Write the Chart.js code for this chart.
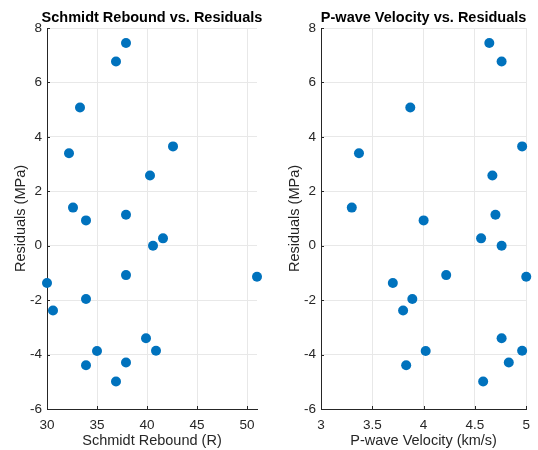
<!DOCTYPE html>
<html>
<head>
<meta charset="utf-8">
<script src="https://cdn.jsdelivr.net/npm/chart.js@4/dist/chart.umd.min.js"></script>
<style>
  body { margin: 0; background: #fff; }
  #wrap { position: relative; width: 538px; height: 450px; }
  canvas { position: absolute; top: 0; }
</style>
</head>
<body>
<div id="wrap">
  <canvas id="left" width="268" height="450" style="left:0"></canvas>
  <canvas id="right" width="270" height="450" style="left:268px"></canvas>
</div>
<script>
// residuals shared by both panels
const residuals = [7.45, 6.77, 5.08, 3.40, 3.65, 2.58, 1.40, 0.93, 1.14,
  0.00, 0.27, -1.08, -1.37, -1.14, -1.96, -2.38, -3.40, -3.86, -3.87, -4.39, -4.29, -4.99];
const schmidt = [37.9, 36.9, 33.3, 32.2, 42.6, 40.3, 32.6, 33.9, 37.9,
  40.6, 41.6, 37.9, 30.0, 51.0, 33.9, 30.6, 39.9, 40.9, 35.0, 33.9, 37.9, 36.9];
const pwave = [4.64, 4.76, 3.87, 3.37, 4.96, 4.67, 3.30, 4.00, 4.70,
  4.76, 4.56, 4.22, 3.70, 5.00, 3.89, 3.80, 4.76, 4.96, 4.02, 3.83, 4.83, 4.58];

const yTicks = [-6, -4, -2, 0, 2, 4, 6, 8];
const schmidtTicks = [30, 35, 40, 45, 50];
const pwaveTicks = [3, 3.5, 4, 4.5, 5];

const FONT = '"Liberation Sans", Arial, sans-serif';
const INK = '#262626';
const BLUE = '#0072BD';

// bold title centred over the plot area, plus small inward tick marks (matlab style)
const decor = {
  id: 'decor',
  beforeDatasetsDraw(chart) {
    const ctx = chart.ctx, a = chart.chartArea;
    const xs = chart.scales.x, ys = chart.scales.y;
    ctx.save();
    ctx.strokeStyle = INK;
    ctx.lineWidth = 1;
    ctx.beginPath();
    xs.ticks.forEach(t => {
      const px = Math.round(xs.getPixelForValue(t.value)) + 0.5;
      ctx.moveTo(px, a.bottom); ctx.lineTo(px, a.bottom - 3);
    });
    ys.ticks.forEach(t => {
      const py = Math.round(ys.getPixelForValue(t.value)) + 0.5;
      ctx.moveTo(a.left, py); ctx.lineTo(a.left + 3, py);
    });
    ctx.stroke();
    ctx.restore();
  },
  afterDraw(chart, args, opts) {
    const ctx = chart.ctx, a = chart.chartArea;
    ctx.save();
    ctx.font = 'bold 14.5px ' + FONT;
    ctx.fillStyle = '#000';
    ctx.textAlign = 'center';
    ctx.textBaseline = 'middle';
    ctx.fillText(opts.text, (a.left + a.right) / 2, 18);
    ctx.restore();
  }
};

function makePanel(id, xs, xMin, xMax, xTicks, xTitle, title, yWidth, yTitlePad, padRight) {
  const pts = xs.map((x, i) => ({ x: x, y: residuals[i] }));
  return new Chart(document.getElementById(id), {
    type: 'scatter',
    data: { datasets: [{ data: pts, backgroundColor: BLUE, borderWidth: 0, pointRadius: 5, pointHoverRadius: 5, clip: false }] },
    options: {
      responsive: false,
      animation: false,
      layout: { padding: { top: 28, right: padRight, left: 0, bottom: 0 } },
      plugins: { legend: { display: false }, tooltip: { enabled: false }, decor: { text: title } },
      scales: {
        x: {
          type: 'linear', min: xMin, max: xMax,
          afterBuildTicks: s => { s.ticks = xTicks.map(v => ({ value: v })); },
          afterFit: s => { s.height = 41; },
          grid: { color: '#e8e8e8', drawTicks: false },
          border: { display: true, color: INK },
          ticks: { color: INK, font: { family: FONT, size: 13.5 }, padding: 8, maxRotation: 0, callback: v => String(v) },
          title: { display: true, text: xTitle, color: INK, font: { family: FONT, size: 14.5 }, padding: { top: 0, bottom: 0 } }
        },
        y: {
          type: 'linear', min: -6, max: 8,
          afterBuildTicks: s => { s.ticks = yTicks.map(v => ({ value: v })); },
          afterFit: s => { s.width = yWidth; },
          grid: { color: '#e8e8e8', drawTicks: false },
          border: { display: true, color: INK },
          ticks: { color: INK, font: { family: FONT, size: 13.5 }, padding: 5, callback: v => String(v) },
          title: { display: true, text: 'Residuals (MPa)', color: INK, font: { family: FONT, size: 14.5 }, padding: { top: yTitlePad, bottom: 0 } }
        }
      }
    },
    plugins: [decor]
  });
}

makePanel('left', schmidt, 30, 51, schmidtTicks, 'Schmidt Rebound (R)', 'Schmidt Rebound vs. Residuals', 47, 12, 11);
makePanel('right', pwave, 3, 5, pwaveTicks, 'P-wave Velocity (km/s)', 'P-wave Velocity vs. Residuals', 53, 18, 8);
</script>
</body>
</html>
